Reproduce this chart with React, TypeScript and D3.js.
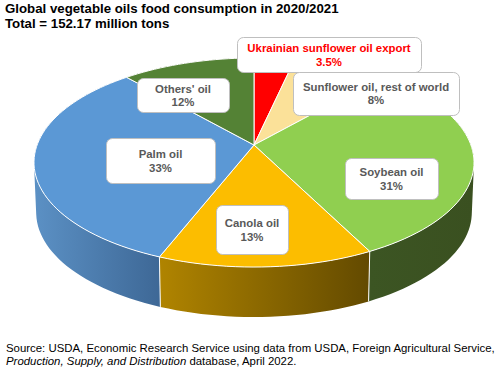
import React from "react";
import * as d3 from "d3";

const categories = ["Ukrainian sunflower oil export", "Sunflower oil, rest of world", "Soybean oil", "Canola oil", "Palm oil", "Others' oil"];
const shares = [3.5, 8, 31, 13.5, 32.5, 11.5];
const shareLabels = ["3.5%", "8%", "31%", "13%", "33%", "12%"];
const topColors = ["#FF0000", "#FBE199", "#90CF50", "#FCBD00", "#5B98D5", "#548235"];
const sideFrom = ["#990000", "#968759", "#3C5523", "#B08400", "#5B90C4", "#324F20"];
const sideTo = ["#990000", "#968759", "#3A5020", "#634A00", "#3D6795", "#324F20"];
const textColors = ["#FF0000", "#595959", "#595959", "#595959", "#595959", "#595959"];
// label box: x0, y0, x1, y1
const boxes = [
  [237, 37, 421, 72],
  [293, 72, 459, 115],
  [345, 158, 438, 199],
  [216, 205, 288, 254],
  [106, 138, 215, 183],
  [137, 78, 229, 112],
];
const lineOffsets = [[11, 25], [15, 28], [14, 28], [18, 32], [16, 30], [11, 24]];

const cx = 254, cy = 145, depth = 50;
const persp = -0.1675, ax = 216.9, ay = 101.6;

type Pt = [number, number];

function project(theta: number, z = 0): Pt {
  const u = Math.sin(theta), v = -Math.cos(theta);
  const den = 1 + persp * v;
  const shrink = 1 - 0.01 * z;
  return [cx + (ax * u * shrink) / den, cy + (ay * v) / den + depth * z];
}

function arcPoints(a0: number, a1: number, z: number): Pt[] {
  const n = Math.max(2, Math.ceil(((a1 - a0) / Math.PI) * 90));
  return d3.range(n + 1).map((i) => project(a0 + ((a1 - a0) * i) / n, z));
}

const line = d3.line();
const pieGen = d3.pie<number>().sort(null).value((d) => d);
const font = "'Liberation Sans', Arial, sans-serif";

// The wall is the union of one quad per rim step, all wound the same way, so
// that the swept silhouette at the far left and right is filled in.
function wallPath(a0: number, a1: number) {
  const top = arcPoints(a0, a1, 0);
  const bot = arcPoints(a0, a1, 1);
  return d3.range(top.length - 1).map((i) => {
    const quad: Pt[] = [top[i], top[i + 1], bot[i + 1], bot[i]];
    if (d3.polygonArea(quad) < 0) quad.reverse();
    return line(quad) + "Z";
  }).join("");
}

export default function App() {
  const arcs = pieGen(shares);
  return (
    <svg width={504} height={377} style={{ position: "absolute", left: 0, top: 0, background: "#fff" }} fontFamily={font}>
      <defs>
        {arcs.map((a, i) => {
          const pts = arcPoints(a.startAngle, a.endAngle, 0);
          const xs = pts.map((p) => p[0]);
          const isPalm = i === 4;
          return (
            <linearGradient key={i} id={`side${i}`} gradientUnits="userSpaceOnUse"
              x1={isPalm ? 36 : d3.min(xs)} x2={isPalm ? 163 : d3.max(xs)} y1={0} y2={0}>
              <stop offset="0" stopColor={sideFrom[i]} />
              <stop offset="1" stopColor={sideTo[i]} />
            </linearGradient>
          );
        })}
      </defs>
      <text x={5} y={13} fontSize={13.25} fontWeight="bold" fill="#000">Global vegetable oils food consumption in 2020/2021</text>
      <text x={5} y={28} fontSize={13.25} fontWeight="bold" fill="#000">Total = 152.17 million tons</text>

      {arcs.map((a, i) => (
        <path key={i} d={wallPath(a.startAngle, a.endAngle)} fill={`url(#side${i})`} />
      ))}
      {arcs.map((a, i) => (
        <path key={i} d={line([project(a.startAngle, 0), project(a.startAngle, 1)])!} stroke="#fff" strokeWidth={1} fill="none" />
      ))}
      {arcs.map((a, i) => (
        <path key={i} d={line([[cx, cy], ...arcPoints(a.startAngle, a.endAngle, 0)])! + "Z"} fill={topColors[i]} stroke="#fff" strokeWidth={1} strokeLinejoin="round" />
      ))}
      {categories.map((c, i) => {
        const [x0, y0, x1, y1] = boxes[i];
        const mid = (x0 + x1) / 2;
        return (
          <g key={i}>
            <rect x={x0 + 0.5} y={y0 + 0.5} width={x1 - x0} height={y1 - y0} rx={6} fill="#fff" stroke="#BFBFBF" strokeWidth={1} />
            <text x={mid} y={y0 + lineOffsets[i][0] + 4} textAnchor="middle" fontSize={11.4} fontWeight="bold" fill={textColors[i]}>{c}</text>
            <text x={mid} y={y0 + lineOffsets[i][1] + 4} textAnchor="middle" fontSize={11.4} fontWeight="bold" fill={textColors[i]}>{shareLabels[i]}</text>
          </g>
        );
      })}
      <text x={6} y={352} fontSize={11.4} fill="#000">Source: USDA, Economic Research Service using data from USDA, Foreign Agricultural Service,</text>
      <text x={6} y={365} fontSize={11.4} fill="#000"><tspan fontStyle="italic">Production, Supply, and Distribution</tspan> database, April 2022.</text>
    </svg>
  );
}
